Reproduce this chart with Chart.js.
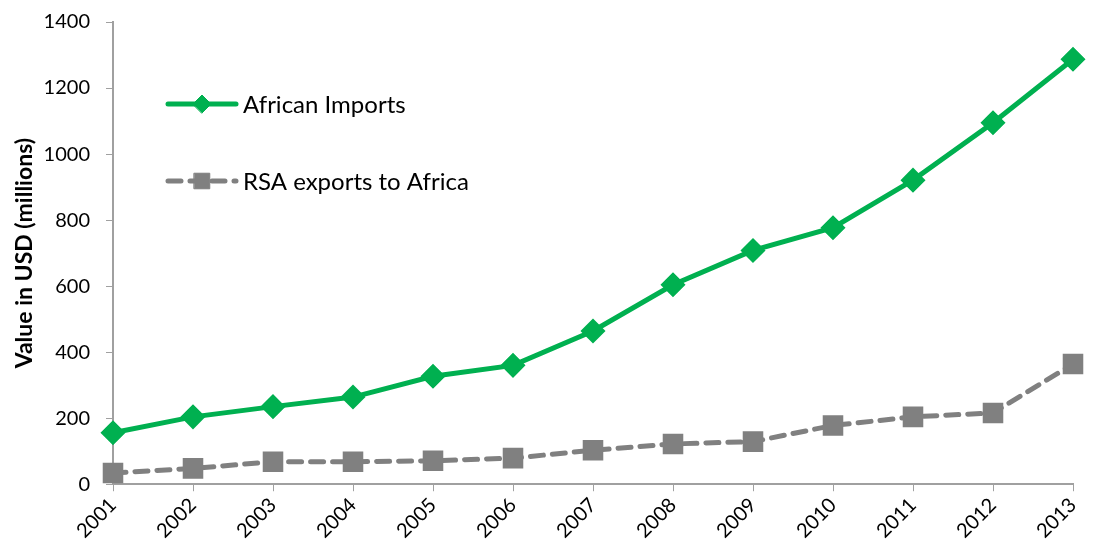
<!DOCTYPE html>
<html>
<head>
<meta charset="utf-8">
<script src="https://cdn.jsdelivr.net/npm/chart.js@4"></script>
<style>
  html, body { margin: 0; padding: 0; background: #fff; }
  #wrap { width: 1101px; height: 552px; }
</style>
</head>
<body>
<div id="wrap"><canvas id="tradeChart"></canvas></div>
<script>
const years = ['2001', '2002', '2003', '2004', '2005', '2006', '2007', '2008', '2009', '2010', '2011', '2012', '2013'];
const africanImports = [156, 204, 235, 264, 327, 360, 464, 604, 708, 777, 921, 1095, 1287];
const rsaExports = [34, 48, 68, 68, 71, 79, 103, 122, 129, 178, 204, 216, 364];
const yTicks = [0, 200, 400, 600, 800, 1000, 1200, 1400];

const FONT = 'Lato, "Open Sans", sans-serif';
const AXIS_GREY = '#a0a0a0';

// legend sits inside the plot, drawn by hand
const insideLegend = {
  id: 'insideLegend',
  afterDraw(chart) {
    const ctx = chart.ctx;
    const rows = [
      { ds: chart.data.datasets[0], y: 104 },
      { ds: chart.data.datasets[1], y: 181 }
    ];
    ctx.save();
    rows.forEach(r => {
      const ds = r.ds;
      ctx.strokeStyle = ds.borderColor;
      ctx.lineWidth = ds.borderWidth;
      ctx.setLineDash(ds.borderDash || []);
      ctx.lineCap = 'round';
      ctx.beginPath();
      ctx.moveTo(168, r.y);
      ctx.lineTo(236, r.y);
      ctx.stroke();
      ctx.setLineDash([]);
      ctx.fillStyle = ds.pointBackgroundColor;
      ctx.strokeStyle = ds.pointBorderColor;
      ctx.lineWidth = 1;
      Chart.helpers.drawPoint(ctx, {
        pointStyle: ds.pointStyle,
        radius: ds.pointRadius,
        borderWidth: 1
      }, 202, r.y);
      ctx.fillStyle = '#000';
      ctx.font = '24px ' + FONT;
      ctx.textBaseline = 'middle';
      ctx.fillText(ds.label, 243, r.y + 1);
    });
    ctx.restore();
  }
};

new Chart(document.getElementById('tradeChart'), {
  type: 'line',
  data: {
    labels: years,
    datasets: [{
      label: 'African Imports',
      data: africanImports,
      borderColor: '#00b050',
      backgroundColor: '#00b050',
      borderWidth: 5,
      pointStyle: 'rectRot',
      pointRadius: 9,
      pointHoverRadius: 9,
      pointBorderColor: '#00b050',
      pointBackgroundColor: '#00b050',
      tension: 0
    }, {
      label: 'RSA exports to Africa',
      data: rsaExports,
      borderColor: '#808080',
      backgroundColor: '#808080',
      borderWidth: 5,
      borderDash: [13, 9],
      borderCapStyle: 'round',
      pointStyle: 'rect',
      pointRadius: 11,
      pointHoverRadius: 11,
      pointBorderColor: '#808080',
      pointBackgroundColor: '#808080',
      tension: 0
    }]
  },
  options: {
    responsive: true,
    maintainAspectRatio: false,
    animation: false,
    layout: { padding: { left: 11, top: 0, right: 28, bottom: 7 } },
    plugins: {
      legend: { display: false },
      tooltip: { enabled: false }
    },
    scales: {
      x: {
        offset: false,
        grid: { display: true, drawOnChartArea: false, drawTicks: true, tickLength: 7, color: AXIS_GREY },
        border: { color: AXIS_GREY, width: 2 },
        ticks: {
          color: '#000',
          font: { family: FONT, size: 20 },
          maxRotation: 45,
          minRotation: 45,
          padding: 2
        }
      },
      y: {
        min: 0,
        max: 1400,
        afterBuildTicks(scale) {
          scale.ticks = yTicks.map(v => ({ value: v }));
        },
        afterFit(scale) {
          // fixed axis width and room above the top label
          scale.width = 102;
          scale.paddingTop = 22;
        },
        grid: { display: true, drawOnChartArea: false, drawTicks: true, tickLength: 7, color: AXIS_GREY },
        border: { color: AXIS_GREY, width: 2 },
        ticks: {
          color: '#000',
          font: { family: FONT, size: 20 },
          padding: 16,
          callback: v => String(v)
        },
        title: {
          display: true,
          text: 'Value in USD (millions)',
          color: '#000',
          font: { family: FONT, size: 23, weight: 'bold' },
          padding: { top: 0, bottom: 0 }
        }
      }
    }
  },
  plugins: [insideLegend]
});
</script>
</body>
</html>
